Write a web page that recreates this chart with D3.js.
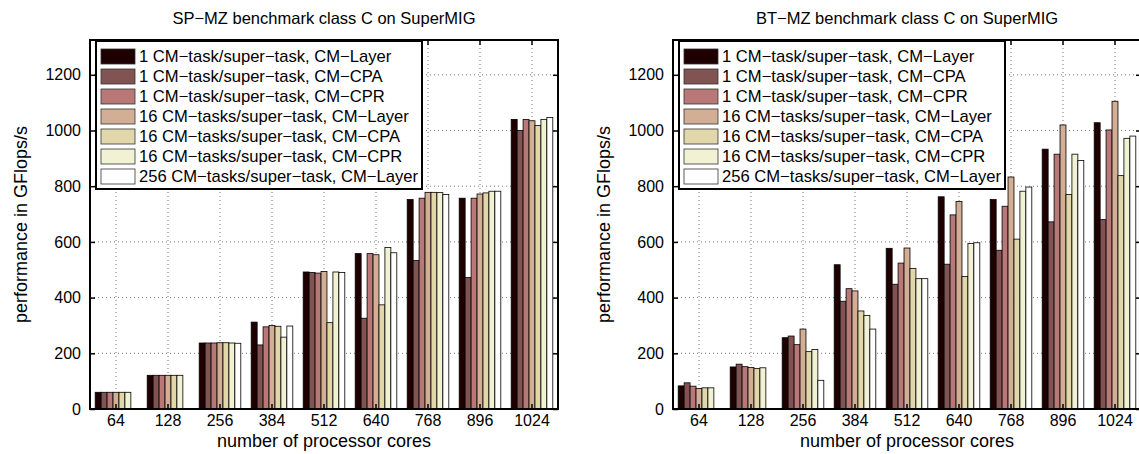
<!DOCTYPE html>
<html>
<head>
<meta charset="utf-8">
<script src="https://cdn.jsdelivr.net/npm/d3@7"></script>
<style>
  body { margin: 0; background: #fff; }
  text { font-family: "Liberation Sans", Arial, sans-serif; fill: #000; }
</style>
</head>
<body>
<div id="chart"></div>
<script>
// categories and legend entries
var cores = ["64", "128", "256", "384", "512", "640", "768", "896", "1024"];
var seriesNames = [
  "1 CM\u2212task/super\u2212task, CM\u2212Layer",
  "1 CM\u2212task/super\u2212task, CM\u2212CPA",
  "1 CM\u2212task/super\u2212task, CM\u2212CPR",
  "16 CM\u2212tasks/super\u2212task, CM\u2212Layer",
  "16 CM\u2212tasks/super\u2212task, CM\u2212CPA",
  "16 CM\u2212tasks/super\u2212task, CM\u2212CPR",
  "256 CM\u2212tasks/super\u2212task, CM\u2212Layer"
];
var seriesColors = ["#1e0000", "#825353", "#b97878", "#d1ae94", "#e1d7aa", "#f1f1d3", "#ffffff"];
var yTicks = [0, 200, 400, 600, 800, 1000, 1200];

// SP-MZ values (GFlops/s), one array per series
var sp1Layer  = [60, 121, 237, 312, 492, 558, 752, 757, 1040];
var sp1CPA    = [60, 121, 237, 230, 490, 326, 533, 472, 1000];
var sp1CPR    = [60, 121, 237, 295, 488, 558, 757, 757, 1040];
var sp16Layer = [60, 121, 238, 300, 494, 554, 778, 772, 1035];
var sp16CPA   = [60, 121, 238, 297, 310, 374, 778, 776, 1018];
var sp16CPR   = [60, 121, 237, 258, 492, 580, 777, 782, 1040];
var sp256Layer = [null, null, 236, 298, 490, 561, 770, 782, 1047];

// BT-MZ values (GFlops/s)
var bt1Layer  = [83, 151, 256, 518, 577, 762, 752, 933, 1028];
var bt1CPA    = [94, 161, 262, 387, 448, 520, 570, 672, 680];
var bt1CPR    = [82, 152, 231, 432, 524, 697, 728, 915, 1002];
var bt16Layer = [74, 149, 287, 424, 578, 745, 833, 1020, 1105];
var bt16CPA   = [76, 145, 206, 352, 505, 476, 610, 770, 838];
var bt16CPR   = [76, 148, 214, 336, 468, 594, 782, 915, 972];
var bt256Layer = [null, null, 103, 287, 468, 597, 797, 892, 980];

var spSeries = [sp1Layer, sp1CPA, sp1CPR, sp16Layer, sp16CPA, sp16CPR, sp256Layer];
var btSeries = [bt1Layer, bt1CPA, bt1CPR, bt16Layer, bt16CPA, bt16CPR, bt256Layer];

var svgWidth = 1139;
var svgHeight = 454;

var svg = d3.select("#chart").append("svg")
  .attr("width", svgWidth)
  .attr("height", svgHeight);

// plot area sizes
var plotW = 468;
var plotTop = 40;
var plotBottom = 409;

function drawPanel(left, title, series) {
  var g = svg.append("g").attr("transform", `translate(${left}, 0)`);

  var x0 = d3.scaleBand().domain(cores).range([0, plotW]).padding(0);
  var groupW = x0.step() * 0.8;
  var x1 = d3.scaleBand().domain(d3.range(series.length)).range([-groupW / 2, groupW / 2]).padding(0);
  var y = d3.scaleLinear().domain([0, 1325]).range([plotBottom, plotTop]);

  // dotted grid
  g.append("g").selectAll("line.gy")
    .data(yTicks.slice(1))
    .enter().append("line")
    .attr("x1", 0).attr("x2", plotW)
    .attr("y1", d => y(d)).attr("y2", d => y(d))
    .attr("stroke", "#777").attr("stroke-width", 1)
    .attr("stroke-dasharray", "1,3");

  g.append("g").selectAll("line.gx")
    .data(cores)
    .enter().append("line")
    .attr("x1", d => x0(d) + x0.bandwidth() / 2)
    .attr("x2", d => x0(d) + x0.bandwidth() / 2)
    .attr("y1", plotTop).attr("y2", plotBottom)
    .attr("stroke", "#777").attr("stroke-width", 1)
    .attr("stroke-dasharray", "1,3");

  // bars
  series.forEach(function(vals, si) {
    var pts = cores.map((c, i) => ({ c: c, v: vals[i] })).filter(d => d.v != null);
    g.append("g").selectAll("rect")
      .data(pts)
      .enter().append("rect")
      .attr("x", d => x0(d.c) + x0.bandwidth() / 2 + x1(si))
      .attr("y", d => y(d.v))
      .attr("width", x1.bandwidth())
      .attr("height", d => y(0) - y(d.v))
      .attr("fill", seriesColors[si])
      .attr("stroke", "#000")
      .attr("stroke-width", 0.8);
  });

  // axes (MATLAB style, ticks inward, box on)
  var yAxisL = d3.axisLeft(y).tickValues(yTicks).tickFormat(d3.format("d")).tickSize(-5).tickPadding(9);
  var yAxisR = d3.axisRight(y).tickValues(yTicks).tickSize(-5).tickFormat("");
  var xAxisB = d3.axisBottom(x0).tickSize(-5).tickPadding(6);
  var xAxisT = d3.axisTop(x0).tickSize(-5).tickFormat("");

  [g.append("g").call(yAxisL),
   g.append("g").attr("transform", `translate(${plotW},0)`).call(yAxisR),
   g.append("g").attr("transform", `translate(0,${plotBottom})`).call(xAxisB),
   g.append("g").attr("transform", `translate(0,${plotTop})`).call(xAxisT)
  ].forEach(function(a) {
    a.select(".domain").remove();
    a.selectAll(".tick line").attr("stroke", "#000").attr("stroke-width", 1.5);
    a.selectAll(".tick text").style("font-size", "16px").style("font-family", "Liberation Sans, Arial, sans-serif");
  });

  // legend
  var leg = g.append("g").attr("transform", `translate(6, ${plotTop + 1})`);
  leg.append("rect")
    .attr("x", 0).attr("y", 0)
    .attr("width", 326).attr("height", 148)
    .attr("fill", "#fff").attr("stroke", "#000").attr("stroke-width", 2);
  var items = leg.selectAll("g.item")
    .data(seriesNames)
    .enter().append("g")
    .attr("transform", (d, i) => `translate(5, ${8 + i * 20})`);
  items.append("rect")
    .attr("width", 34).attr("height", 15)
    .attr("fill", (d, i) => seriesColors[i])
    .attr("stroke", "#333").attr("stroke-width", 0.8);
  items.append("text")
    .attr("x", 38).attr("y", 7.5)
    .attr("dy", "0.35em")
    .style("font-size", "16.6px")
    .text(d => d);

  // frame
  g.append("rect")
    .attr("x", 0).attr("y", plotTop)
    .attr("width", plotW).attr("height", plotBottom - plotTop)
    .attr("fill", "none").attr("stroke", "#000").attr("stroke-width", 2);

  // title and axis labels
  g.append("text")
    .attr("x", plotW / 2).attr("y", 24)
    .attr("text-anchor", "middle")
    .style("font-size", "16.5px")
    .text(title);

  g.append("text")
    .attr("x", plotW / 2).attr("y", 447)
    .attr("text-anchor", "middle")
    .style("font-size", "18px")
    .text("number of processor cores");

  g.append("text")
    .attr("transform", `translate(-63, ${(plotTop + plotBottom) / 2}) rotate(-90)`)
    .attr("text-anchor", "middle")
    .style("font-size", "18px")
    .text("performance in GFlops/s");
}

drawPanel(90, "SP\u2212MZ benchmark class C on SuperMIG", spSeries);
drawPanel(673, "BT\u2212MZ benchmark class C on SuperMIG", btSeries);
</script>
</body>
</html>
